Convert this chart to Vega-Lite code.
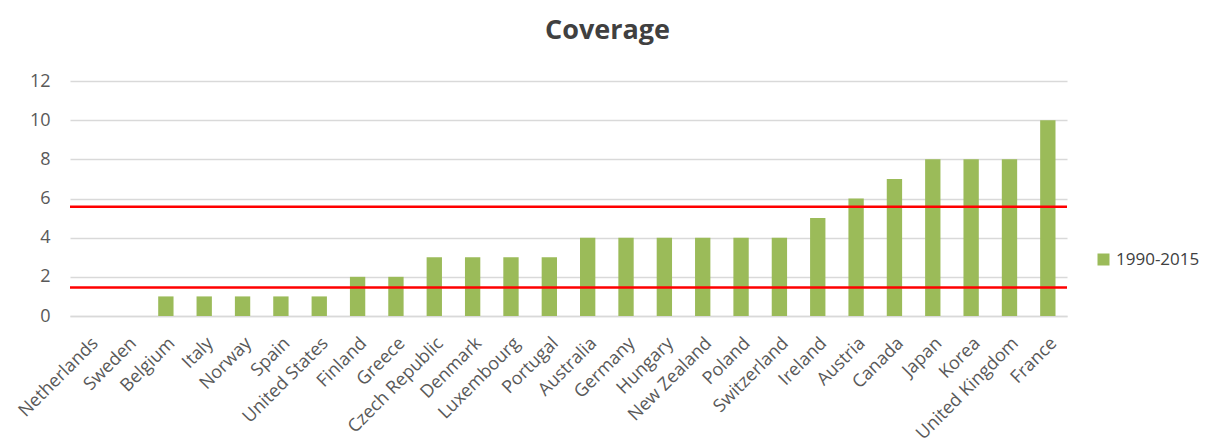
{
  "$schema": "https://vega.github.io/schema/vega-lite/v6.json",
  "width": 997,
  "height": 235,
  "autosize": "none",
  "padding": {"left": 70, "top": 81, "right": 138, "bottom": 123},
  "background": "white",
  "title": {
    "text": "Coverage",
    "font": "Open Sans",
    "fontSize": 27,
    "fontWeight": "bold",
    "color": "#404040",
    "anchor": "middle",
    "dx": 39,
    "offset": 27
  },
  "config": {
    "view": {"stroke": null},
    "font": "Open Sans"
  },
  "datasets": {
    "coverage": [
      {"country": "Netherlands", "period": "1990-2015", "value": 0},
      {"country": "Sweden", "period": "1990-2015", "value": 0},
      {"country": "Belgium", "period": "1990-2015", "value": 1},
      {"country": "Italy", "period": "1990-2015", "value": 1},
      {"country": "Norway", "period": "1990-2015", "value": 1},
      {"country": "Spain", "period": "1990-2015", "value": 1},
      {"country": "United States", "period": "1990-2015", "value": 1},
      {"country": "Finland", "period": "1990-2015", "value": 2},
      {"country": "Greece", "period": "1990-2015", "value": 2},
      {"country": "Czech Republic", "period": "1990-2015", "value": 3},
      {"country": "Denmark", "period": "1990-2015", "value": 3},
      {"country": "Luxembourg", "period": "1990-2015", "value": 3},
      {"country": "Portugal", "period": "1990-2015", "value": 3},
      {"country": "Australia", "period": "1990-2015", "value": 4},
      {"country": "Germany", "period": "1990-2015", "value": 4},
      {"country": "Hungary", "period": "1990-2015", "value": 4},
      {"country": "New Zealand", "period": "1990-2015", "value": 4},
      {"country": "Poland", "period": "1990-2015", "value": 4},
      {"country": "Switzerland", "period": "1990-2015", "value": 4},
      {"country": "Ireland", "period": "1990-2015", "value": 5},
      {"country": "Austria", "period": "1990-2015", "value": 6},
      {"country": "Canada", "period": "1990-2015", "value": 7},
      {"country": "Japan", "period": "1990-2015", "value": 8},
      {"country": "Korea", "period": "1990-2015", "value": 8},
      {"country": "United Kingdom", "period": "1990-2015", "value": 8},
      {"country": "France", "period": "1990-2015", "value": 10}
    ],
    "bands": [
      {"level": 5.58},
      {"level": 1.46}
    ]
  },
  "layer": [
    {
      "data": {"name": "coverage"},
      "mark": {"type": "bar"},
      "encoding": {
        "x": {
          "field": "country",
          "type": "nominal",
          "sort": null,
          "scale": {"paddingInner": 0.6, "paddingOuter": 0.3},
          "axis": {
            "title": null,
            "labelAngle": -45,
            "labelFontSize": 18,
            "labelColor": "#595959",
            "labelPadding": 18,
            "ticks": false,
            "domainColor": "#D9D9D9",
            "domainWidth": 1.5,
            "labelOverlap": false
          }
        },
        "y": {
          "field": "value",
          "type": "quantitative",
          "scale": {"domain": [0, 12]},
          "axis": {
            "title": null,
            "values": [0, 2, 4, 6, 8, 10, 12],
            "labelFontSize": 18,
            "labelColor": "#595959",
            "labelPadding": 20,
            "labelOverlap": false,
            "ticks": false,
            "domain": false,
            "gridColor": "#D9D9D9",
            "gridWidth": 1.5
          }
        },
        "color": {
          "field": "period",
          "type": "nominal",
          "scale": {"range": ["#9BBB59"]},
          "legend": {
            "title": null,
            "orient": "none",
            "legendX": 1025,
            "legendY": 170,
            "symbolType": "square",
            "symbolSize": 144,
            "symbolStrokeWidth": 0,
            "labelFontSize": 17,
            "labelColor": "#404040",
            "labelOffset": 4
          }
        }
      }
    },
    {
      "data": {"name": "bands"},
      "mark": {"type": "rule", "color": "#FF0000", "strokeWidth": 2.5},
      "encoding": {
        "y": {
          "field": "level",
          "type": "quantitative",
          "axis": {
            "title": null,
            "values": [0, 2, 4, 6, 8, 10, 12],
            "labelFontSize": 18,
            "labelColor": "#595959",
            "labelPadding": 20,
            "labelOverlap": false,
            "ticks": false,
            "domain": false,
            "gridColor": "#D9D9D9",
            "gridWidth": 1.5
          }
        }
      }
    }
  ]
}
